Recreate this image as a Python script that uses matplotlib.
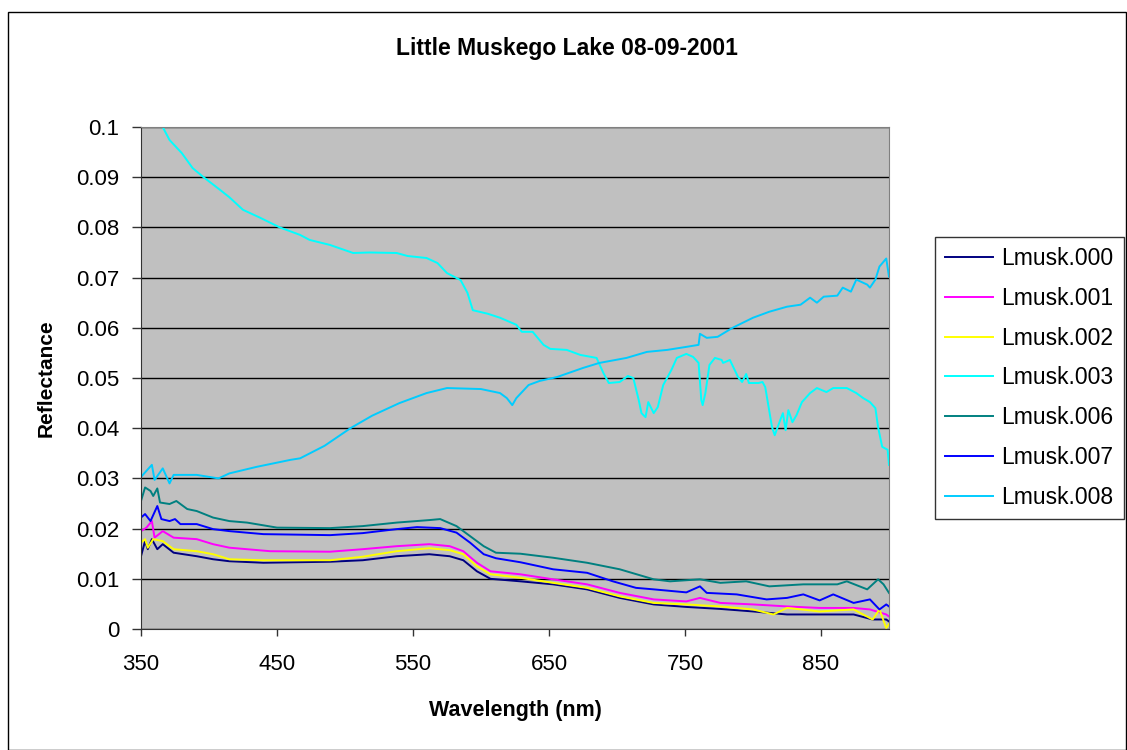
import numpy as np
import matplotlib
matplotlib.use("Agg")
import matplotlib.pyplot as plt
from matplotlib.patches import Rectangle

plt.rcParams['font.family'] = ['Liberation Sans', 'DejaVu Sans']

# Lmusk.000 (navy)
wl_000 = [350, 353, 355, 358, 362, 366, 374, 391, 403, 415, 440, 489, 513, 538, 562, 577, 587, 597, 607, 629,
          653, 678, 702, 727, 751, 776, 800, 825, 849, 874, 888, 898, 900]
r_000 = [0.0145, 0.0175, 0.0159, 0.0179, 0.0159, 0.0169, 0.0152, 0.0145, 0.0139, 0.0135, 0.0132, 0.0134, 0.0137,
         0.0145, 0.0149, 0.0145, 0.0137, 0.0115, 0.0100, 0.0095, 0.0089, 0.0079, 0.0062, 0.0049, 0.0044, 0.0040,
         0.0035, 0.0029, 0.0029, 0.0029, 0.0019, 0.0019, 0.0015]

# Lmusk.001 (magenta)
wl_001 = [350, 354, 358, 360, 366, 374, 391, 403, 415, 445, 489, 513, 538, 562, 577, 587, 597, 607, 629,
          653, 678, 702, 727, 751, 761, 776, 800, 825, 849, 874, 886, 898, 900]
r_001 = [0.0195, 0.0202, 0.0215, 0.0182, 0.0195, 0.0182, 0.0179, 0.0169, 0.0162, 0.0155, 0.0154, 0.0159, 0.0165,
         0.0169, 0.0165, 0.0155, 0.0132, 0.0115, 0.0109, 0.0099, 0.0089, 0.0072, 0.0059, 0.0055, 0.0062, 0.0052,
         0.0049, 0.0045, 0.0042, 0.0042, 0.0039, 0.0029, 0.0025]

# Lmusk.002 (yellow)
wl_002 = [350, 353, 355, 359, 366, 374, 391, 403, 415, 440, 489, 513, 538, 562, 577, 587, 597, 607, 629,
          653, 678, 702, 727, 751, 776, 800, 815, 825, 849, 874, 888, 893, 898, 900]
r_002 = [0.0172, 0.0179, 0.0162, 0.0179, 0.0175, 0.0159, 0.0155, 0.0149, 0.0139, 0.0137, 0.0137, 0.0144, 0.0155,
         0.0161, 0.0157, 0.0149, 0.0125, 0.0109, 0.0102, 0.0092, 0.0082, 0.0065, 0.0052, 0.0049, 0.0045, 0.0039,
         0.0029, 0.0042, 0.0035, 0.0039, 0.0019, 0.0039, 0.0002, 0.0010]

# Lmusk.003 (cyan)
wl_003 = [365, 371, 380, 388, 396, 408, 415, 425, 437, 452, 467, 474, 489, 506, 518, 538, 546, 560, 568, 575,
          585, 590, 594, 605, 614, 626, 630, 638, 646, 651, 663, 673, 685, 690, 694, 702, 708, 712, 716, 718,
          721, 723, 727, 730, 734, 740, 744, 751, 756, 760, 762, 763, 765, 768, 772, 777, 778, 783, 789, 792,
          795, 797, 804, 807, 809, 811, 814, 816, 820, 822, 824, 826, 829, 832, 836, 842, 847, 854, 859, 869,
          876, 881, 886, 890, 892, 895, 899, 900]
r_003 = [0.1005, 0.0974, 0.0948, 0.0918, 0.0900, 0.0875, 0.0860, 0.0835, 0.0820, 0.0800, 0.0785, 0.0775, 0.0765,
         0.0749, 0.0750, 0.0749, 0.0743, 0.0739, 0.0729, 0.0709, 0.0695, 0.0670, 0.0635, 0.0628, 0.0620, 0.0606,
         0.0592, 0.0592, 0.0566, 0.0558, 0.0556, 0.0546, 0.0540, 0.0510, 0.0490, 0.0492, 0.0504, 0.0500, 0.0456,
         0.0430, 0.0422, 0.0452, 0.0430, 0.0442, 0.0486, 0.0516, 0.0540, 0.0548, 0.0542, 0.0530, 0.0456, 0.0446,
         0.0470, 0.0526, 0.0540, 0.0536, 0.0530, 0.0536, 0.0502, 0.0492, 0.0508, 0.0490, 0.0490, 0.0492, 0.0482,
         0.0450, 0.0402, 0.0386, 0.0416, 0.0430, 0.0396, 0.0436, 0.0412, 0.0426, 0.0452, 0.0470, 0.0480, 0.0472,
         0.0480, 0.0480, 0.0470, 0.0460, 0.0452, 0.0440, 0.0402, 0.0363, 0.0357, 0.0327]

# Lmusk.006 (teal)
wl_006 = [350, 353, 357, 359, 362, 364, 371, 376, 384, 391, 403, 415, 428, 450, 489, 513, 538, 562, 570, 582,
          592, 602, 611, 629, 653, 678, 702, 727, 739, 761, 776, 795, 812, 837, 862, 869, 884, 892, 896, 900]
r_006 = [0.0255, 0.0282, 0.0275, 0.0265, 0.0280, 0.0252, 0.0249, 0.0255, 0.0239, 0.0235, 0.0222, 0.0215, 0.0212,
         0.0202, 0.0201, 0.0205, 0.0212, 0.0217, 0.0219, 0.0205, 0.0185, 0.0165, 0.0152, 0.0150, 0.0142, 0.0132,
         0.0119, 0.0099, 0.0095, 0.0099, 0.0092, 0.0095, 0.0085, 0.0089, 0.0089, 0.0095, 0.0079, 0.0099, 0.0089,
         0.0072]

# Lmusk.007 (blue)
wl_007 = [350, 353, 357, 362, 365, 371, 375, 379, 391, 403, 415, 440, 489, 513, 538, 553, 570, 582, 592, 602,
          611, 629, 653, 678, 697, 714, 727, 751, 761, 766, 788, 810, 825, 837, 849, 859, 874, 886, 893, 898, 900]
r_007 = [0.0222, 0.0229, 0.0215, 0.0245, 0.0219, 0.0215, 0.0219, 0.0209, 0.0209, 0.0199, 0.0195, 0.0189, 0.0187,
         0.0191, 0.0199, 0.0203, 0.0201, 0.0192, 0.0172, 0.0149, 0.0141, 0.0133, 0.0119, 0.0112, 0.0095, 0.0082,
         0.0079, 0.0073, 0.0085, 0.0072, 0.0069, 0.0059, 0.0062, 0.0069, 0.0057, 0.0069, 0.0052, 0.0059, 0.0039,
         0.0049, 0.0045]

# Lmusk.008 (sky blue)
wl_008 = [350, 358, 360, 366, 371, 374, 391, 407, 415, 435, 460, 467, 485, 504, 520, 540, 560, 575, 600, 614,
          619, 623, 626, 635, 643, 656, 675, 687, 707, 722, 737, 751, 760, 761, 766, 774, 785, 800, 812, 825,
          835, 842, 847, 852, 862, 866, 872, 876, 884, 886, 890, 893, 898, 900]
r_008 = [0.0303, 0.0327, 0.0297, 0.0320, 0.0290, 0.0307, 0.0307, 0.0300, 0.0310, 0.0323, 0.0337, 0.0340, 0.0365,
         0.0400, 0.0425, 0.0450, 0.0470, 0.0480, 0.0478, 0.0470, 0.0460, 0.0446, 0.0460, 0.0486, 0.0494, 0.0502,
         0.0520, 0.0530, 0.0540, 0.0552, 0.0556, 0.0562, 0.0566, 0.0588, 0.0580, 0.0582, 0.0600, 0.0620, 0.0632,
         0.0642, 0.0646, 0.0660, 0.0650, 0.0662, 0.0664, 0.0680, 0.0672, 0.0696, 0.0686, 0.0680, 0.0696, 0.0722,
         0.0738, 0.0702]

series = [
    ("Lmusk.000", wl_000, r_000, "#000080"),
    ("Lmusk.001", wl_001, r_001, "#FF00FF"),
    ("Lmusk.002", wl_002, r_002, "#FFFF00"),
    ("Lmusk.003", wl_003, r_003, "#00FFFF"),
    ("Lmusk.006", wl_006, r_006, "#008080"),
    ("Lmusk.007", wl_007, r_007, "#0000FF"),
    ("Lmusk.008", wl_008, r_008, "#00CCFF"),
]

fig = plt.figure(figsize=(11.27, 7.5), dpi=100)
ax = fig.add_axes([0.1251, 0.1613, 0.6637, 0.6694])
ax.set_facecolor("#C0C0C0")

for name, x, y, c in series:
    ax.plot(x, y, color=c, lw=1.4, label=name)

ax.set_xlim(350, 900)
ax.set_ylim(0, 0.1)
ax.set_xticks([350, 450, 550, 650, 750, 850])
ax.set_yticks(np.arange(0, 0.101, 0.01))
ax.set_yticklabels(["0", "0.01", "0.02", "0.03", "0.04", "0.05", "0.06", "0.07", "0.08", "0.09", "0.1"])
ax.grid(axis="y", color="black", lw=1)
ax.set_axisbelow(True)
ax.tick_params(direction="out", width=1, labelsize=16, color="#333333")
ax.tick_params(axis="x", length=5, pad=13)
ax.tick_params(axis="y", length=6.5, pad=9)
for s in ["top", "right"]:
    ax.spines[s].set_color("#808080")
for s in ["left", "bottom"]:
    ax.spines[s].set_color("#333333")

ax.set_xlabel("Wavelength (nm)", fontsize=15.5, fontweight="bold")
ax.set_ylabel("Reflectance", fontsize=15, fontweight="bold")
ax.xaxis.set_label_coords(0.5, -0.1414)
ax.yaxis.set_label_coords(-0.114, 0.5)
fig.text(0.503, 0.936, "Little Muskego Lake 08-09-2001", ha="center", va="center",
         fontsize=16.5, fontweight="bold")

leg = fig.legend(loc="upper left", bbox_to_anchor=(0.8296, 0.684), fontsize=16.5, frameon=True,
                 fancybox=False, edgecolor="black", handlelength=2.1, labelspacing=0.73,
                 borderpad=0.45, handletextpad=0.35, borderaxespad=0)
leg.get_frame().set_linewidth(1)

fig.patches.append(Rectangle((0.007, 0.0), 0.992, 0.984, transform=fig.transFigure,
                             fill=False, edgecolor="black", lw=1))

fig.savefig("out.png", dpi=100)
